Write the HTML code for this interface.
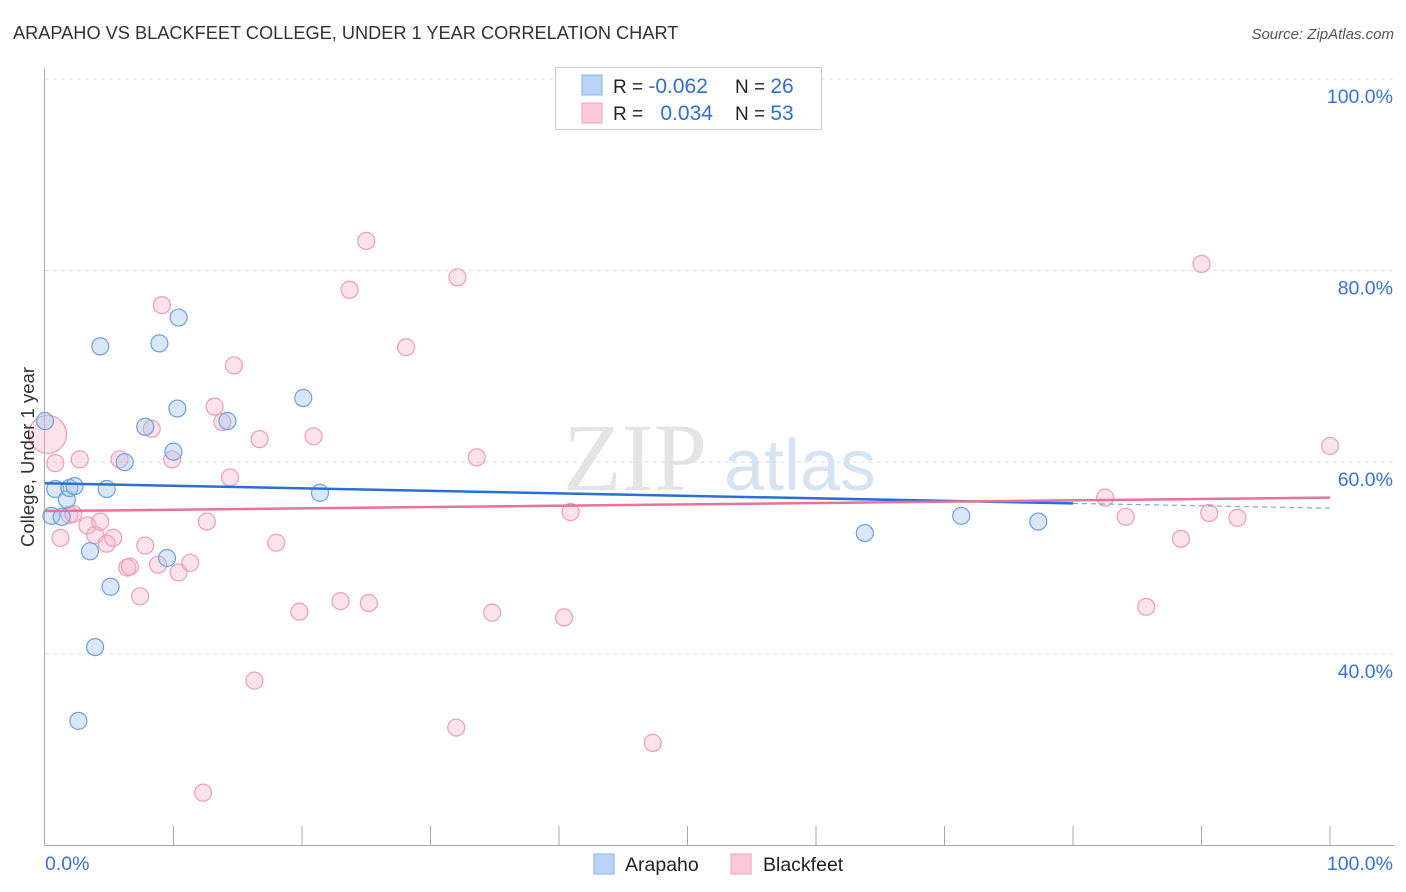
<!DOCTYPE html>
<html><head><meta charset="utf-8"><style>
body{margin:0;background:#fff;font-family:"Liberation Sans",sans-serif;}
svg{display:block}
</style></head><body>
<svg id="chart" width="1406" height="892">
<text x="13" y="39" font-size="18.2" fill="#333">ARAPAHO VS BLACKFEET COLLEGE, UNDER 1 YEAR CORRELATION CHART</text>
<text x="1394" y="39" font-size="15" fill="#555" font-style="italic" text-anchor="end">Source: ZipAtlas.com</text>
<text x="635" y="490" font-size="96" fill="#e4e4e4" font-family="Liberation Serif,serif" text-anchor="middle">ZIP</text>
<text x="800" y="490" font-size="72" fill="#d6e3f3" text-anchor="middle">atlas</text>
<g id="grid"></g><g id="axes"></g><g id="marks"></g>
<text x="34" y="457" font-size="18.5" fill="#333" text-anchor="middle" transform="rotate(-90 34 457)">College, Under 1 year</text>
<g>
<rect x="555.5" y="67.5" width="266" height="62" fill="#fff" stroke="#ccc"/>
<rect x="582" y="75" width="20" height="20" fill="#b8d3f5" stroke="#8ab3e8"/>
<rect x="582" y="103" width="20" height="20" fill="#fbc9d8" stroke="#f0a0bb"/>
<text x="613" y="93" font-size="19" fill="#222">R = <tspan fill="#2f6fd0" font-size="21">-0.062</tspan></text>
<text x="735" y="93" font-size="19" fill="#222">N = <tspan fill="#2f6fd0" font-size="21">26</tspan></text>
<text x="613" y="120" font-size="19" fill="#222">R = <tspan fill="#2f6fd0" dx="12" font-size="21">0.034</tspan></text>
<text x="735" y="120" font-size="19" fill="#222">N = <tspan fill="#2f6fd0" font-size="21">53</tspan></text>
</g>
<g>
<rect x="594" y="854" width="20" height="20" fill="#b8d3f5" stroke="#8ab3e8"/>
<text x="625" y="871" font-size="19.5" fill="#222">Arapaho</text>
<rect x="731" y="854" width="20" height="20" fill="#fbc9d8" stroke="#f0a0bb"/>
<text x="763" y="871" font-size="19.5" fill="#222">Blackfeet</text>
</g>
</svg>
<script>
const blueX=[0,0.8,0.5,1.3,1.7,1.9,2.3,4.3,4.8,3.5,5.1,3.9,2.6,6.2,8.9,10.4,10.3,7.8,10.0,9.5,14.2,20.1,21.4,63.8,71.3,77.3];
const blueY=[64.3,57.2,54.4,54.3,56.1,57.3,57.5,72.1,57.2,50.7,47.0,40.7,33.0,60.0,72.4,75.1,65.6,63.7,61.1,50.0,64.3,66.7,56.8,52.6,54.4,53.8];
const pinkX=[0.2,0.8,1.2,1.9,2.2,2.7,3.3,3.9,4.3,4.8,5.3,5.8,6.4,6.6,7.4,7.8,8.3,8.8,9.1,9.9,10.4,11.3,12.3,12.6,13.2,13.8,14.4,14.7,16.3,16.7,18.0,19.8,20.9,23.0,23.7,25.0,25.2,28.1,32.0,32.1,33.6,34.8,40.4,40.9,47.3,82.5,84.1,85.7,88.4,90.0,90.6,92.8,100];
const pinkY=[62.9,59.9,52.1,54.5,54.6,60.3,53.4,52.4,53.8,51.5,52.1,60.3,49.0,49.1,46.0,51.3,63.5,49.3,76.4,60.3,48.5,49.5,25.5,53.8,65.8,64.2,58.4,70.1,37.2,62.4,51.6,44.4,62.7,45.5,78.0,83.1,45.3,72.0,32.3,79.3,60.5,44.3,43.8,54.8,30.7,56.3,54.3,44.9,52.0,80.7,54.7,54.2,61.7];
const yTicks=[40,60,80,100];
const yTickLabels=["40.0%","60.0%","80.0%","100.0%"];
const blueTrend=[57.8,55.7,55.2]; // at x=0, 80, 100
const pinkTrend=[54.9,56.3];
const NS="http://www.w3.org/2000/svg";
const sx=v=>45+v*12.85, sy=v=>1037-v*9.58;
function mk(tag,attrs,parent){const e=document.createElementNS(NS,tag);for(const k in attrs)e.setAttribute(k,attrs[k]);document.getElementById(parent).appendChild(e);return e;}
yTicks.forEach((t,i)=>{
 const l=mk('line',{x1:45,x2:1394,y1:sy(t),y2:sy(t),stroke:'#ddd','stroke-dasharray':'4,4'},'grid');
 
 
 const tx=mk('text',{x:1393,y:sy(t)+24,'font-size':19.5,fill:'#3a72cf','text-anchor':'end'},'grid');
 tx.textContent=yTickLabels[i];
 
 
});
const ax=mk('line',{x1:44.5,x2:44.5,y1:68,y2:845,stroke:'#aaa'},'axes');


const bx=mk('line',{x1:44,x2:1394,y1:845.5,y2:845.5,stroke:'#aaa'},'axes');


for(let i=1;i<=10;i++){const t=mk('line',{x1:sx(i*10),x2:sx(i*10),y1:826,y2:845,stroke:'#aaa'},'axes');
 
 }
[["0.0%",45,'start'],["100.0%",1393,'end']].forEach(a=>{const t=mk('text',{x:a[1],y:870,'font-size':19.5,fill:'#3a72cf','text-anchor':a[2]},'axes');t.textContent=a[0];
 
 });
pinkX.forEach((x,i)=>{const c=mk('circle',{cx:sx(x),cy:sy(pinkY[i]),r:i===0?19:8.5,fill:'rgba(246,175,198,0.35)',stroke:'#ec9db7','stroke-width':1.2},'marks');
 
 });
blueX.forEach((x,i)=>{const c=mk('circle',{cx:sx(x),cy:sy(blueY[i]),r:8.5,fill:'rgba(160,195,240,0.4)',stroke:'#6f9fe0','stroke-width':1.2},'marks');
 
 });
const bl=mk('line',{x1:sx(0),y1:sy(blueTrend[0]),x2:sx(80),y2:sy(blueTrend[1]),stroke:'#2a6fd6','stroke-width':2.5},'marks');


const bd=mk('line',{x1:sx(80),y1:sy(blueTrend[1]),x2:sx(100),y2:sy(blueTrend[2]),stroke:'#7aa6e0','stroke-width':1.2,'stroke-dasharray':'5,4'},'marks');


const pl=mk('line',{x1:sx(0),y1:sy(pinkTrend[0]),x2:sx(100),y2:sy(pinkTrend[1]),stroke:'#e8739a','stroke-width':2.5},'marks');


</script>
</body></html>
